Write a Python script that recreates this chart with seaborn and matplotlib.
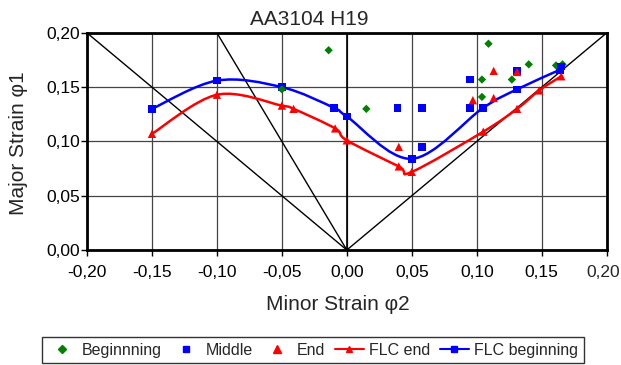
import numpy as np
import matplotlib
matplotlib.use("Agg")
import matplotlib.pyplot as plt
from matplotlib.path import Path
from matplotlib.patches import PathPatch
from matplotlib.lines import Line2D
from matplotlib.ticker import FuncFormatter, MultipleLocator
import seaborn as sns

# Messpunkte
begin_x = [-0.05, -0.014, 0.015, 0.104, 0.104, 0.109, 0.127, 0.140, 0.161, 0.166]
begin_y = [0.148, 0.184, 0.130, 0.157, 0.141, 0.190, 0.157, 0.171, 0.170, 0.171]
middle_x = [0.039, 0.058, 0.058, 0.095, 0.095, 0.131, 0.165]
middle_y = [0.131, 0.131, 0.095, 0.157, 0.131, 0.165, 0.169]
end_x = [0.040, 0.097, 0.113, 0.113, 0.131]
end_y = [0.095, 0.138, 0.165, 0.140, 0.164]

# Grenzformänderungskurven
flc_end_x = [-0.15, -0.10, -0.05, -0.041, -0.009, 0.0, 0.040, 0.05, 0.105, 0.131, 0.148, 0.165]
flc_end_y = [0.107, 0.143, 0.133, 0.130, 0.112, 0.101, 0.077, 0.072, 0.109, 0.130, 0.147, 0.160]
flc_begin_x = [-0.15, -0.10, -0.05, -0.01, 0.0, 0.05, 0.105, 0.131, 0.164]
flc_begin_y = [0.130, 0.156, 0.150, 0.131, 0.123, 0.084, 0.131, 0.148, 0.166]

sns.set_style("white")
plt.rcParams['font.family'] = ['Liberation Sans', 'DejaVu Sans']


def smooth_path(xs, ys):
    # Excel-artige Glättung (Bezier durch die Punkte)
    p = np.column_stack([xs, ys])
    n = len(p)
    verts = [p[0]]
    codes = [Path.MOVETO]
    for i in range(n - 1):
        p0 = p[i - 1] if i > 0 else p[i]
        p3 = p[i + 2] if i + 2 < n else p[i + 1]
        c1 = p[i] + (p[i + 1] - p0) / 6
        c2 = p[i + 1] - (p3 - p[i]) / 6
        verts += [c1, c2, p[i + 1]]
        codes += [Path.CURVE4] * 3
    return Path(verts, codes)


fig = plt.figure(figsize=(6.21, 3.65), dpi=100)
ax = fig.add_axes([0.140, 0.315, 0.837, 0.595])

# Hilfslinien
ax.plot([-0.2, 0, 0.2], [0.2, 0, 0.2], color="black", lw=1)
ax.plot([-0.1, 0], [0.2, 0], color="black", lw=1)

ax.add_patch(PathPatch(smooth_path(flc_begin_x, flc_begin_y), fill=False, edgecolor="blue", lw=1.8, zorder=3))
ax.add_patch(PathPatch(smooth_path(flc_end_x, flc_end_y), fill=False, edgecolor="red", lw=1.8, zorder=3))
sns.scatterplot(x=flc_begin_x, y=flc_begin_y, marker="s", color="blue", s=30, edgecolor="none", ax=ax, zorder=4)
sns.scatterplot(x=flc_end_x, y=flc_end_y, marker="^", color="red", s=36, edgecolor="none", ax=ax, zorder=4)

sns.scatterplot(x=begin_x, y=begin_y, marker="D", color="green", s=18, edgecolor="none", ax=ax, zorder=5)
sns.scatterplot(x=middle_x, y=middle_y, marker="s", color="blue", s=30, edgecolor="none", ax=ax, zorder=5)
sns.scatterplot(x=end_x, y=end_y, marker="^", color="red", s=36, edgecolor="none", ax=ax, zorder=5)

ax.set_xlim(-0.2, 0.2)
ax.set_ylim(0, 0.2)
ax.xaxis.set_major_locator(MultipleLocator(0.05))
ax.yaxis.set_major_locator(MultipleLocator(0.05))
fmt = FuncFormatter(lambda v, pos: f"{v:.2f}".replace(".", ","))
# letzte x-Beschriftung wird separat am Rand gesetzt
xfmt = FuncFormatter(lambda v, pos: "" if v > 0.199 else f"{v:.2f}".replace(".", ","))
ax.xaxis.set_major_formatter(xfmt)
ax.yaxis.set_major_formatter(fmt)
ax.grid(True, color="#444444", lw=0.9)
ax.axvline(0, color="black", lw=1.2)
for s in ax.spines.values():
    s.set_color("black")
    s.set_linewidth(2)
ax.tick_params(direction="out", length=4, width=1, labelsize=12.5, colors="black", bottom=True, left=True)
ax.tick_params(axis="x", pad=7)
ax.tick_params(axis="y", pad=1)
ax.annotate("0,20", xy=(1, 0), xycoords="axes fraction", xytext=(13, -15),
            textcoords="offset pixels", ha="right", va="top", fontsize=12.5)

fig.text(309 / 621, 1 - 25 / 365, "AA3104 H19", fontsize=15, ha="center", va="baseline")
ax.set_xlabel("Minor Strain φ2", fontsize=15)
ax.xaxis.set_label_coords(0.483, -0.205)
ax.set_ylabel("Major Strain φ1", fontsize=15)
ax.yaxis.set_label_coords(-0.113, 0.49)

handles = [
    Line2D([], [], ls="none", marker="D", color="green", markersize=4),
    Line2D([], [], ls="none", marker="s", color="blue", markersize=5),
    Line2D([], [], ls="none", marker="^", color="red", markersize=6),
    Line2D([], [], color="red", marker="^", markersize=5, lw=1.5),
    Line2D([], [], color="blue", marker="s", markersize=4, lw=1.5),
]
labels = ["Beginnning", "Middle", "End", "FLC end", "FLC beginning"]
leg = fig.legend(handles, labels, loc="upper center", bbox_to_anchor=(313 / 621, 1 - 337 / 365), ncol=5,
                 fontsize=11.5, frameon=True, fancybox=False, edgecolor="black",
                 handlelength=1.8, columnspacing=0.6, handletextpad=0.35, borderpad=0.35,
                 borderaxespad=0)
leg.get_frame().set_linewidth(1)

fig.savefig("out.png", dpi=100)
